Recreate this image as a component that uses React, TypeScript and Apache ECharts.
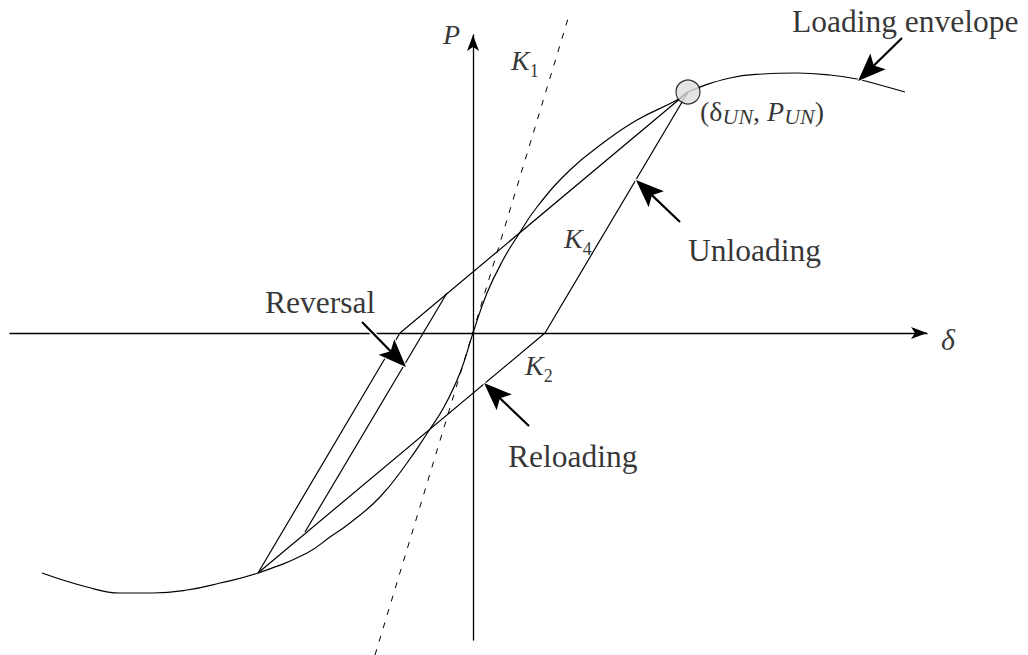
import React, { useEffect, useRef } from "react";
import * as echarts from "echarts";

// Loading envelope of the hysteresis model (δ, P)
const envelopeDelta = [
  -4.31, -3.86, -3.53, -3.2, -2.86, -2.53, -2.15, -1.66, -1.43, -1.23, -0.93, -0.66,
  -0.45, -0.29, -0.13, 0, 0.14, 0.3, 0.44, 0.64, 0.97, 1.3, 1.64, 2.04, 2.15, 2.57,
  2.9, 3.24, 3.57, 3.84, 4.07, 4.32,
];
const envelopeP = [
  -2.4, -2.54, -2.6, -2.6, -2.57, -2.5, -2.4, -2.2, -2.04, -1.9, -1.64, -1.3,
  -0.99, -0.74, -0.4, 0, 0.4, 0.73, 0.96, 1.26, 1.63, 1.9, 2.13, 2.33, 2.41, 2.55,
  2.59, 2.6, 2.58, 2.54, 2.48, 2.41,
];

// Unloading (K4) down to P = 0, then reloading (K2) to the opposite envelope
const unloadDelta = [2.15, 0.72, -2.15];
const unloadP = [2.41, 0, -2.4];

// Full reversal back to the unloading point
const reversalDelta = [-2.15, -0.73, 2.15];
const reversalP = [-2.4, 0, 2.41];

// Partial reversal starting on the reloading branch
const partialDelta = [-1.68, -0.26];
const partialP = [-1.99, 0.4];

// Initial stiffness K1
const k1Delta = [-0.98, 0.97];
const k1P = [-3.22, 3.21];

// Unloading point (δUN, PUN)
const unloadPoint = [2.15, 2.41];

// Pointer arrows: tail and tip
const arrowTailDelta = [4.29, 2.07, -1.11, 0.56];
const arrowTailP = [2.95, 1.11, 0.11, -0.93];
const arrowTipDelta = [3.85, 1.63, -0.67, 0.11];
const arrowTipP = [2.52, 1.53, -0.34, -0.5];

// Annotations
const labelText = [
  "{ip|P}",
  "{k|K}{sub|1}",
  "{t|Loading envelope}",
  "{p|(}{p|δ}{su|UN}{p|, }{ip|P}{su|UN}{p|)}",
  "{k|K}{sub|4}",
  "{t|Unloading}",
  "{t|Reversal}",
  "{k|K}{sub|2}",
  "{t|Reloading}",
  "{ax|δ}",
];
const labelDelta = [-0.3, 0.38, 3.19, 2.27, 0.91, 2.15, -2.08, 0.52, 0.35, 4.68];
const labelP = [2.99, 2.725, 3.12, 2.22, 0.945, 0.83, 0.31, -0.325, -1.23, -0.06];

const SERIF = "'Liberation Serif', 'Times New Roman', serif";
const PX_PER_UNIT = 100;
const HEAD = 28;
const HALO = 34;
// Notched arrowhead, 22 wide and 28 long, padded to a square box so it is not stretched
const HEAD_PATH = "path://M-3,0L-3,0M25,28L25,28M11,0L22,28L11,22L0,28Z";

const zip = (xs: number[], ys: number[]) => xs.map((x, i) => [x, ys[i]]);

// The arrow symbol is centred on the line end, so pull the end back by half its length
function arrowSegment(i: number) {
  const tail = [arrowTailDelta[i], arrowTailP[i]];
  const tip = [arrowTipDelta[i], arrowTipP[i]];
  const dx = tip[0] - tail[0];
  const dy = tip[1] - tail[1];
  const len = Math.hypot(dx, dy);
  const back = HEAD / 2 / PX_PER_UNIT;
  return { coords: [tail, [tip[0] - (dx / len) * back, tip[1] - (dy / len) * back]] };
}

const plainLine = (data: number[][], extra: any = {}) => ({
  type: "line",
  data,
  showSymbol: false,
  symbol: "none",
  clip: false,
  silent: true,
  lineStyle: { color: "#000", width: 1.2 },
  ...extra,
});

export default function App() {
  const ref = useRef<HTMLDivElement>(null);

  useEffect(() => {
    if (!ref.current) return;
    const chart = echarts.init(ref.current, undefined, { renderer: "svg" });

    const axisCommon = {
      type: "value",
      axisTick: { show: false },
      axisLabel: { show: false },
      splitLine: { show: false },
    };

    const arrows = arrowTailDelta.map((_, i) => arrowSegment(i));

    chart.setOption({
      animation: false,
      backgroundColor: "#fff",
      grid: { left: 10, right: 101, top: 35, bottom: 15 },
      xAxis: {
        ...axisCommon,
        min: -4.63,
        max: 4.54,
        axisLine: {
          onZero: true,
          symbol: ["none", "arrow"],
          symbolSize: [9, 16],
          lineStyle: { color: "#000", width: 1.3 },
        },
      },
      yAxis: {
        ...axisCommon,
        min: -3.07,
        max: 2.98,
        axisLine: {
          onZero: true,
          symbol: ["none", "arrow"],
          symbolSize: [9, 16],
          lineStyle: { color: "#000", width: 1.3 },
        },
      },
      series: [
        plainLine(zip(envelopeDelta, envelopeP), { smooth: 0.45 }),
        plainLine(zip(unloadDelta, unloadP)),
        plainLine(zip(reversalDelta, reversalP)),
        plainLine(zip(partialDelta, partialP)),
        plainLine(zip(k1Delta, k1P), {
          lineStyle: { color: "#000", width: 1, type: [6, 8] },
        }),
        {
          type: "lines",
          coordinateSystem: "cartesian2d",
          silent: true,
          symbol: ["none", HEAD_PATH],
          symbolSize: [0, HALO],
          lineStyle: { color: "#fff", width: 5, opacity: 1 },
          data: arrows,
          z: 5,
        },
        {
          type: "lines",
          coordinateSystem: "cartesian2d",
          silent: true,
          symbol: ["none", HEAD_PATH],
          symbolSize: [0, HEAD],
          lineStyle: { color: "#000", width: 2.2, opacity: 1 },
          data: arrows,
          z: 6,
        },
        {
          type: "scatter",
          silent: true,
          clip: false,
          data: [unloadPoint],
          symbol: "circle",
          symbolSize: 24,
          itemStyle: { color: "#dddddd", borderColor: "#000", borderWidth: 1.2 },
          z: 7,
        },
        {
          type: "scatter",
          silent: true,
          clip: false,
          symbolSize: 0,
          z: 8,
          data: labelText.map((text, i) => ({
            value: [labelDelta[i], labelP[i]],
            label: { formatter: text },
          })),
          label: {
            show: true,
            position: "right",
            distance: 0,
            color: "#000",
            fontFamily: SERIF,
            rich: {
              t: { fontSize: 31.5, fontFamily: SERIF, color: "#000" },
              p: { fontSize: 28, fontFamily: SERIF, color: "#000" },
              ip: { fontSize: 28, fontStyle: "italic", fontFamily: SERIF, color: "#000" },
              su: {
                fontSize: 22,
                fontStyle: "italic",
                fontFamily: SERIF,
                color: "#000",
                lineHeight: 22,
                padding: [10, 0, 0, 0],
              },
              k: {
                fontSize: 28,
                fontStyle: "italic",
                fontFamily: SERIF,
                color: "#000",
                lineHeight: 40,
              },
              sub: {
                fontSize: 18,
                fontFamily: SERIF,
                color: "#000",
                lineHeight: 18,
                padding: [20, 0, 0, 0],
              },
              ax: { fontSize: 30, fontStyle: "italic", fontFamily: SERIF, color: "#000" },
            },
          },
        },
      ],
    });

    return () => chart.dispose();
  }, []);

  return (
    <div
      ref={ref}
      style={{ position: "fixed", left: 0, top: 0, width: 1028, height: 655, background: "#fff" }}
    />
  );
}
